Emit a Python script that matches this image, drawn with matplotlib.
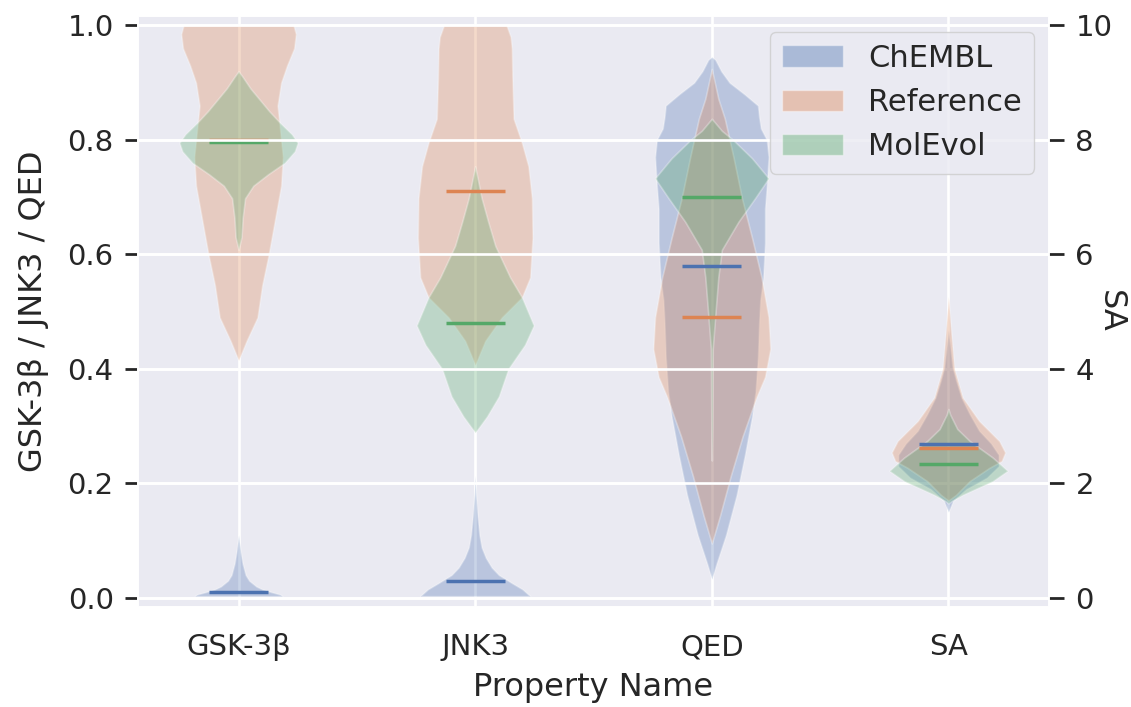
import numpy as np
import matplotlib
matplotlib.use("Agg")
import matplotlib.pyplot as plt
import seaborn as sns
from matplotlib.patches import Patch

sns.set_theme(style="darkgrid")
plt.rcParams['font.family'] = ['DejaVu Sans']
plt.rcParams['grid.linewidth'] = 1.9

properties = ["GSK-3β", "JNK3", "QED", "SA"]
datasets = ["ChEMBL", "Reference", "MolEvol"]
colors = sns.color_palette("deep")[:3]

# violin outlines: score value and relative density (1 = widest)
gsk_chembl_y = [0.003, 0.006, 0.01, 0.015, 0.02, 0.03, 0.04, 0.06, 0.08, 0.10, 0.11]
gsk_chembl_w = [0.74, 0.70, 0.56, 0.40, 0.30, 0.18, 0.12, 0.068, 0.036, 0.012, 0.0]
gsk_ref_y = [0.415, 0.43, 0.45, 0.49, 0.546, 0.60, 0.657, 0.72, 0.77, 0.82, 0.86, 0.90, 0.93, 0.96, 0.985, 1.0]
gsk_ref_w = [0.0, 0.06, 0.14, 0.32, 0.40, 0.51, 0.61, 0.72, 0.75, 0.70, 0.66, 0.72, 0.82, 0.94, 0.97, 0.93]
gsk_mol_y = [0.608, 0.63, 0.664, 0.698, 0.72, 0.74, 0.76, 0.78, 0.795, 0.81, 0.83, 0.85, 0.87, 0.89, 0.91, 0.92]
gsk_mol_w = [0.0, 0.05, 0.07, 0.11, 0.25, 0.5, 0.78, 0.95, 1.0, 0.9, 0.7, 0.52, 0.36, 0.2, 0.07, 0.0]

jnk_chembl_y = [0.003, 0.015, 0.026, 0.04, 0.053, 0.07, 0.088, 0.11, 0.144, 0.18, 0.213]
jnk_chembl_w = [0.93, 0.8, 0.62, 0.4, 0.28, 0.18, 0.11, 0.072, 0.04, 0.016, 0.0]
jnk_ref_y = [0.407, 0.449, 0.49, 0.525, 0.56, 0.629, 0.698, 0.754, 0.795, 0.837, 0.906, 0.96, 0.98, 1.0]
jnk_ref_w = [0.0, 0.17, 0.45, 0.79, 0.93, 0.97, 0.96, 0.9, 0.79, 0.65, 0.63, 0.62, 0.6, 0.53]
jnk_mol_y = [0.289, 0.30, 0.317, 0.352, 0.40, 0.442, 0.476, 0.525, 0.56, 0.615, 0.657, 0.698, 0.754]
jnk_mol_w = [0.0, 0.08, 0.2, 0.4, 0.56, 0.84, 0.99, 0.79, 0.59, 0.34, 0.22, 0.11, 0.0]

qed_chembl_y = [0.033, 0.06, 0.11, 0.18, 0.25, 0.317, 0.36, 0.42, 0.48, 0.52, 0.56, 0.62, 0.68, 0.72,
                0.77, 0.80, 0.82, 0.84, 0.86, 0.88, 0.90, 0.92, 0.94, 0.945]
qed_chembl_w = [0.0, 0.08, 0.24, 0.42, 0.56, 0.68, 0.74, 0.78, 0.8, 0.82, 0.87, 0.9, 0.9, 0.93,
                0.96, 0.93, 0.83, 0.8, 0.78, 0.55, 0.3, 0.16, 0.06, 0.0]
qed_ref_y = [0.095, 0.144, 0.213, 0.282, 0.352, 0.386, 0.435, 0.49, 0.56, 0.629, 0.698, 0.768, 0.837, 0.872, 0.924]
qed_ref_w = [0.0, 0.14, 0.32, 0.52, 0.76, 0.9, 0.99, 0.96, 0.84, 0.68, 0.51, 0.37, 0.22, 0.11, 0.0]
qed_mol_y = [0.24, 0.30, 0.435, 0.49, 0.56, 0.608, 0.657, 0.698, 0.733, 0.768, 0.80, 0.816, 0.837]
qed_mol_w = [0.0, 0.008, 0.016, 0.056, 0.11, 0.17, 0.45, 0.73, 0.96, 0.68, 0.36, 0.17, 0.0]

sa_chembl_y = [1.5, 1.7, 1.9, 2.1, 2.3, 2.5, 2.7, 2.92, 3.21, 3.5, 3.8, 4.03, 4.4, 4.68]
sa_chembl_w = [0.0, 0.08, 0.3, 0.65, 0.85, 0.85, 0.72, 0.52, 0.36, 0.22, 0.13, 0.07, 0.03, 0.0]
sa_ref_y = [1.7, 1.8, 2.04, 2.27, 2.39, 2.54, 2.74, 3.09, 3.5, 4.0, 4.67, 5.26]
sa_ref_w = [0.0, 0.13, 0.36, 0.69, 0.9, 0.96, 0.86, 0.52, 0.24, 0.1, 0.044, 0.0]
sa_mol_y = [1.65, 1.69, 1.8, 2.04, 2.22, 2.45, 2.74, 2.95, 3.2, 3.3]
sa_mol_w = [0.0, 0.05, 0.24, 0.75, 1.0, 0.75, 0.36, 0.15, 0.03, 0.0]

chembl_medians = [0.01, 0.03, 0.58, 2.68]
ref_medians = [0.80, 0.71, 0.49, 2.62]
mol_medians = [0.797, 0.48, 0.70, 2.33]

profiles = {
    "ChEMBL": [(gsk_chembl_y, gsk_chembl_w), (jnk_chembl_y, jnk_chembl_w),
               (qed_chembl_y, qed_chembl_w), (sa_chembl_y, sa_chembl_w)],
    "Reference": [(gsk_ref_y, gsk_ref_w), (jnk_ref_y, jnk_ref_w),
                  (qed_ref_y, qed_ref_w), (sa_ref_y, sa_ref_w)],
    "MolEvol": [(gsk_mol_y, gsk_mol_w), (jnk_mol_y, jnk_mol_w),
                (qed_mol_y, qed_mol_w), (sa_mol_y, sa_mol_w)],
}
medians = {"ChEMBL": chembl_medians, "Reference": ref_medians, "MolEvol": mol_medians}

fig, ax = plt.subplots(figsize=(11.31, 7.07), dpi=100)
fig.subplots_adjust(left=0.122, right=0.9275, bottom=0.1414, top=0.977)
ax2 = ax.twinx()

half = 0.25  # half of the violin width
for name, color in zip(datasets, colors):
    for pos, (y, w) in enumerate(profiles[name]):
        target = ax2 if properties[pos] == "SA" else ax
        hw = half * np.asarray(w)
        target.fill_betweenx(y, pos - hw, pos + hw, facecolor=color,
                             edgecolor="white", linewidth=1.2, alpha=0.3)
    for pos, m in enumerate(medians[name]):
        target = ax2 if properties[pos] == "SA" else ax
        target.hlines(m, pos - half / 2, pos + half / 2, color=color, lw=2.5)

ax.set_xlim(-0.425, 3.425)
ax.set_ylim(-0.016, 1.016)
ax2.set_ylim(-0.16, 10.16)
ax.set_xticks(range(len(properties)))
ax.set_xticklabels(properties)
ax.set_yticks(np.linspace(0, 1, 6))
ax.set_yticklabels([f"{v:.1f}" for v in np.linspace(0, 1, 6)])
ax2.set_yticks(range(0, 11, 2))

ax.tick_params(axis="x", length=0, pad=19, labelsize=21, colors="#262626")
ax.tick_params(axis="y", left=True, length=9.5, width=2, pad=8, labelsize=21,
               color="#262626", labelcolor="#262626")
ax2.tick_params(axis="y", right=True, length=11, width=2, pad=8, labelsize=21,
                color="#262626", labelcolor="#262626")

ax.set_xlabel("Property Name", fontsize=23, color="#262626", va="center")
ax.xaxis.set_label_coords(0.5, -0.137)
ax.set_ylabel("GSK-3β / JNK3 / QED", fontsize=23, color="#262626", va="center")
ax.yaxis.set_label_coords(-0.115, 0.5)
ax2.set_ylabel("SA", fontsize=23, rotation=270, color="#262626", va="center")
ax2.yaxis.set_label_coords(1.067, 0.5)

handles = [Patch(facecolor=c, alpha=0.4, label=n) for n, c in zip(datasets, colors)]
ax2.legend(handles=handles, loc="upper right", fontsize=22)

fig.savefig("out.png", dpi=100)
